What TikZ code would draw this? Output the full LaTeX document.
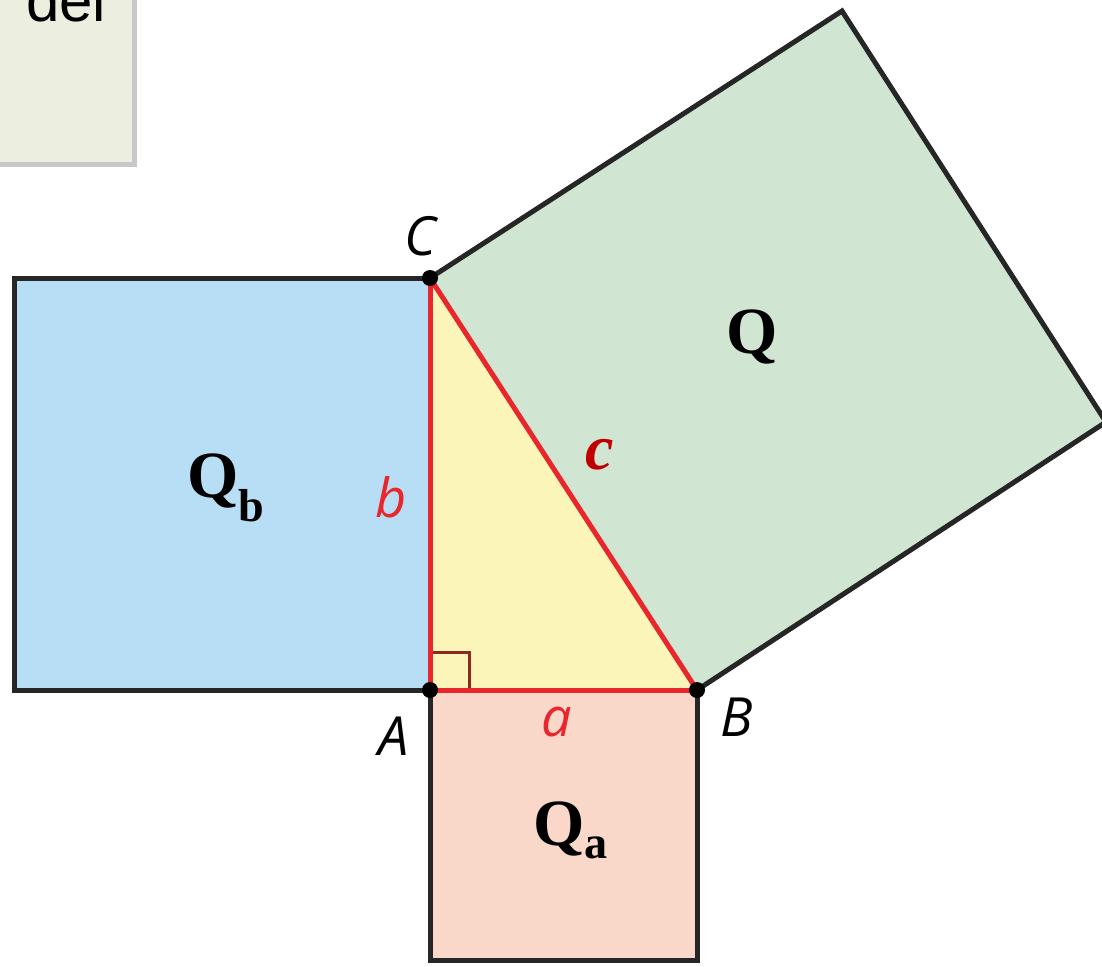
\documentclass[tikz,border=0pt]{standalone}
\usepackage{fontspec}
\usetikzlibrary{calc}
\setmainfont{Liberation Serif}
\newfontfamily\boxfont{Liberation Sans}
\newfontfamily\ptfont{Open Sans}
\definecolor{qbblue}{HTML}{B8DEF6}
\definecolor{qgreen}{HTML}{D0E6D3}
\definecolor{qapink}{HTML}{F9D8C9}
\definecolor{triyel}{HTML}{FCF5BA}
\definecolor{sidered}{HTML}{E8262C}
\definecolor{cred}{HTML}{C00000}
\definecolor{boxfill}{HTML}{ECEFE0}
\definecolor{boxshadow}{HTML}{C8C8C8}
\definecolor{anglecol}{HTML}{8B2A20}
\tikzset{
  sq/.style={draw=black!85, line width=5pt, line join=miter},
  side/.style={draw=sidered, line width=5pt, line cap=round},
  vertex/.style={circle, fill=black, inner sep=0pt, minimum size=16pt},
  ptlabel/.style={font=\ptfont\itshape\fontsize{54}{54}\selectfont, inner sep=0pt},
  sidelabel/.style={font=\ptfont\itshape\fontsize{54}{54}\selectfont, text=sidered, inner sep=0pt},
  qlabel/.style={font=\bfseries\fontsize{66}{66}\selectfont, inner sep=0pt},
}
\begin{document}
\begin{tikzpicture}[x=1pt,y=-1pt]
\useasboundingbox (0,0) rectangle (1102,966);
\clip (0,0) rectangle (1102,966);
% partial box top-left
\fill[boxshadow] (-10,-10) rectangle (137,167);
\fill[boxfill] (-10,-10) rectangle (132,162);
\node[font=\boxfont\fontsize{60}{60}\selectfont, anchor=base west, inner sep=0pt] (del) at (26,22) {del};
% coordinates
\coordinate (A) at (430,690);
\coordinate (B) at (697,690);
\coordinate (C) at (430,278);
\coordinate (D) at (842,11);
\coordinate (E) at (1106,422);
\coordinate (L1) at (14,278);
\coordinate (L2) at (14,690);
\coordinate (P1) at (430,960);
\coordinate (P2) at (697,960);
\coordinate (R1) at (430,652);
\coordinate (R2) at (469,652);
\coordinate (R3) at (469,690);
% squares
\fill[qbblue] (L1) -- (C) -- (A) -- (L2) -- cycle;
\fill[qapink] (A) -- (B) -- (P2) -- (P1) -- cycle;
\fill[qgreen] (C) -- (D) -- (E) -- (B) -- cycle;
\fill[triyel] (A) -- (B) -- (C) -- cycle;
\draw[sq] (C) -- (L1) -- (L2) -- (A);
\draw[sq] (A) -- (P1) -- (P2) -- (B);
\draw[sq] (C) -- (D) -- (E) -- (B);
% right angle mark
\draw[anglecol, line width=3pt] (R1) -- (R2) -- (R3);
% triangle sides
\draw[side] (A) -- (B);
\draw[side] (A) -- (C);
\draw[side] (C) -- (B);
% vertices
\node[vertex] (vA) at (A) {};
\node[vertex] (vB) at (B) {};
\node[vertex] (vC) at (C) {};
% labels
\node[ptlabel] (lC) at (420,236) {C};
\node[ptlabel] (lA) at (394,736) {A};
\node[ptlabel] (lB) at (737,717) {B};
\node[sidelabel] (la) at (557,722) {a};
\node[sidelabel] (lb) at (391,497) {b};
\node[font=\bfseries\itshape\fontsize{64}{64}\selectfont, text=cred, inner sep=0pt] (lc) at (600,455) {c};
\node[qlabel] (Q) at (752,337) {Q};
\node[qlabel] (Qb) at (226,488) {Q\textsubscript{b}};
\node[qlabel] (Qa) at (571,830) {Q\textsubscript{a}};
\end{tikzpicture}
\end{document}
